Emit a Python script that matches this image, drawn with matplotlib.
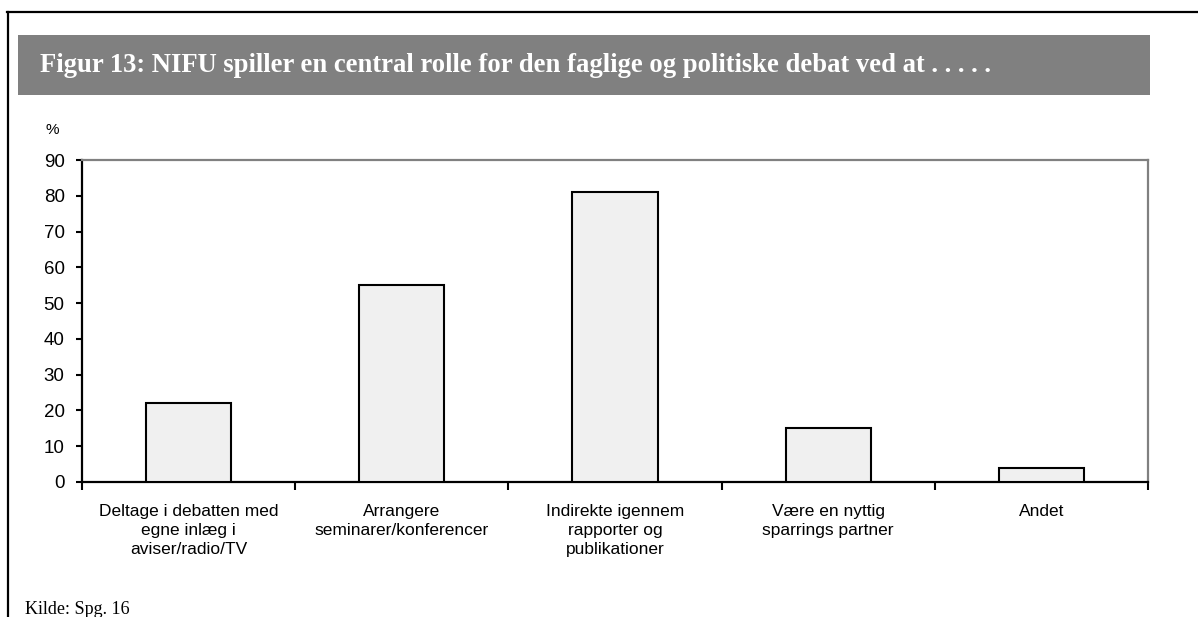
import matplotlib
matplotlib.use("Agg")
import matplotlib.pyplot as plt
from matplotlib.patches import Rectangle
from matplotlib.lines import Line2D
import numpy as np

categories = [
    "Deltage i debatten med\negne inlæg i\naviser/radio/TV",
    "Arrangere\nseminarer/konferencer",
    "Indirekte igennem\nrapporter og\npublikationer",
    "Være en nyttig\nsparrings partner",
    "Andet",
]
values = [22, 55, 81, 15, 4]
yticks = [0, 10, 20, 30, 40, 50, 60, 70, 80, 90]
title = "Figur 13: NIFU spiller en central rolle for den faglige og politiske debat ved at . . . . ."
source = "Kilde: Spg. 16"

W, H = 1198, 617
fig = plt.figure(figsize=(W / 100, H / 100), dpi=100)
fig.patch.set_facecolor("white")

def fx(px):
    return px / W

def fy(py):
    return 1 - py / H

# outer border (top and left)
fig.add_artist(Line2D([fx(7), 1.0], [fy(12), fy(12)], color="black", lw=1.6))
fig.add_artist(Line2D([fx(8), fx(8)], [fy(12), 0.0], color="black", lw=1.6))

# title bar
fig.add_artist(Rectangle((fx(18), fy(95)), fx(1150) - fx(18), fy(35) - fy(95),
                         facecolor="#808080", edgecolor="none"))
fig.text(fx(40), fy(66), title, color="white", fontweight="bold",
         family="Liberation Serif", fontsize=19.2, va="center", ha="left")

# axes
ax = fig.add_axes([fx(82), fy(482), fx(1148) - fx(82), fy(160) - fy(482)])
x = np.arange(len(categories))
ax.bar(x, values, width=0.4, color="#f0f0f0", edgecolor="black", linewidth=1.5, zorder=3)
ax.set_xlim(-0.5, len(categories) - 0.5)
ax.set_ylim(0, 90)
ax.set_yticks(yticks)
ax.set_yticklabels([str(v) for v in yticks], family="Liberation Sans", fontsize=13.5)
ax.tick_params(axis="y", length=4.5, width=1.5, direction="out", pad=8)

ax.set_xticks(x)
ax.set_xticklabels(categories, family="Liberation Sans", fontsize=12.5, linespacing=1.32)
ax.tick_params(axis="x", which="major", length=0, pad=16)
ax.set_xticks(np.arange(-0.5, len(categories)), minor=True)
ax.tick_params(axis="x", which="minor", length=6, width=1.5, direction="out")

for s in ["left", "bottom"]:
    ax.spines[s].set_color("black")
    ax.spines[s].set_linewidth(1.6)
for s in ["top", "right"]:
    ax.spines[s].set_color("#808080")
    ax.spines[s].set_linewidth(1.6)

fig.text(fx(52), fy(130), "%", family="Liberation Sans", fontsize=11, ha="center", va="center")
fig.text(fx(25), fy(614), source, family="Liberation Serif", fontsize=13, ha="left", va="baseline")

fig.savefig("out.png", dpi=100)
